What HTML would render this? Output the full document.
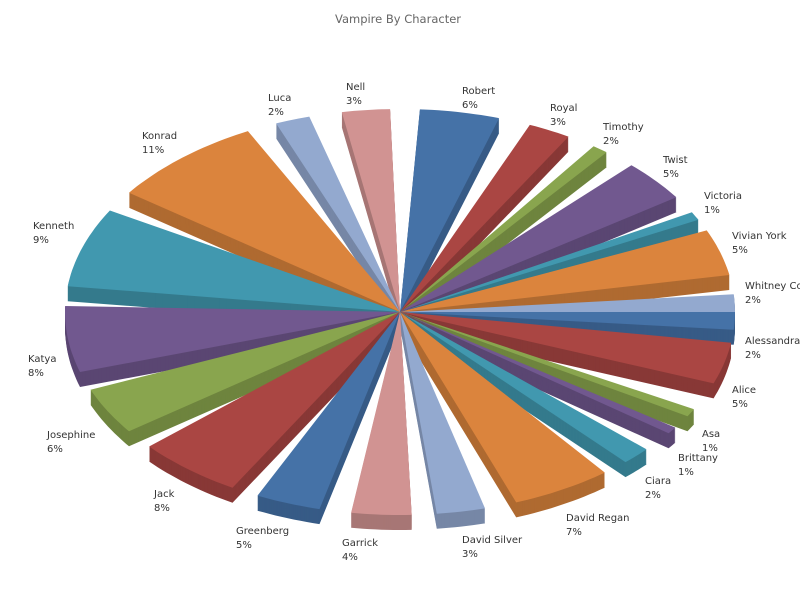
<!DOCTYPE html>
<html><head><meta charset="utf-8"><style>
html,body{margin:0;padding:0;background:#fff;}
svg{display:block;font-family:"DejaVu Sans","Liberation Sans",sans-serif;}
</style></head><body>
<svg id="s" width="800" height="600" xmlns="http://www.w3.org/2000/svg">
<rect width="800" height="600" fill="#fff"/>
<text x="398" y="23" text-anchor="middle" font-size="11.5" fill="#666">Vampire By Character</text>
<g id="pie"></g>
<g font-size="10" fill="#333">
<text x="462" y="94">Robert</text><text x="462" y="108">6%</text>
<text x="550" y="111">Royal</text><text x="550" y="125">3%</text>
<text x="603" y="130">Timothy</text><text x="603" y="144">2%</text>
<text x="663" y="163">Twist</text><text x="663" y="177">5%</text>
<text x="704" y="199">Victoria</text><text x="704" y="213">1%</text>
<text x="732" y="239">Vivian York</text><text x="732" y="253">5%</text>
<text x="745" y="289">Whitney Co</text><text x="745" y="303">2%</text>
<text x="745" y="344">Alessandra</text><text x="745" y="358">2%</text>
<text x="732" y="393">Alice</text><text x="732" y="407">5%</text>
<text x="702" y="437">Asa</text><text x="702" y="451">1%</text>
<text x="678" y="461">Brittany</text><text x="678" y="475">1%</text>
<text x="645" y="484">Ciara</text><text x="645" y="498">2%</text>
<text x="566" y="521">David Regan</text><text x="566" y="535">7%</text>
<text x="462" y="543">David Silver</text><text x="462" y="557">3%</text>
<text x="342" y="546">Garrick</text><text x="342" y="560">4%</text>
<text x="236" y="534">Greenberg</text><text x="236" y="548">5%</text>
<text x="154" y="497">Jack</text><text x="154" y="511">8%</text>
<text x="47" y="438">Josephine</text><text x="47" y="452">6%</text>
<text x="28" y="362">Katya</text><text x="28" y="376">8%</text>
<text x="33" y="229">Kenneth</text><text x="33" y="243">9%</text>
<text x="142" y="139">Konrad</text><text x="142" y="153">11%</text>
<text x="268" y="101">Luca</text><text x="268" y="115">2%</text>
<text x="346" y="90">Nell</text><text x="346" y="104">3%</text>
</g>
</svg>
<script>
var B="#4572A7",R="#AA4643",G="#89A54E",P="#71588F",T="#4198AF",O="#DB843D",L="#93A9CF",K="#D19392";
var d=[[-86.6,-72.8,B],[-67.2,-59.8,R],[-54.7,-51.9,G],[-46.3,-34.4,P],[-29.4,-27,T],[-23.7,-10.5,O],
[-5,0,L],[0,5,B],[8.7,20.6,R],[28.6,30.9,G],[34.7,36.7,P],[42.6,47.7,T],[52.3,69.7,O],[75.3,83.7,L],
[88,98.4,K],[103.9,115.2,B],[120,138.5,R],[144,157.5,G],[162.8,181.7,P],[187.3,210,T],[216,243,O],
[248.3,254.3,L],[260,268.3,K]];
var cx=400,cy=312,rx=335,ry=203,th=15,D=Math.PI/180;
function dark(c){var n=parseInt(c.slice(1),16);var r=(n>>16)&255,g=(n>>8)&255,b=n&255;
return "rgb("+Math.round(r*.8)+","+Math.round(g*.8)+","+Math.round(b*.8)+")";}
var sl=d.map(function(x){return {s:x[0]*D,e:x[1]*D,m:(x[0]+x[1])/2*D,c:x[2]};});
function path(s,e,dy){var p="M"+cx+","+(cy+dy);var n=Math.max(4,Math.ceil((e-s)/0.02));
for(var i=0;i<=n;i++){var t=s+(e-s)*i/n;p+="L"+(cx+rx*Math.cos(t)).toFixed(1)+","+(cy+dy+ry*Math.sin(t)).toFixed(1);}
return p+"Z";}
sl.sort(function(p,q){return Math.sin(p.m)-Math.sin(q.m);});
var g=document.getElementById("pie"),h="";
sl.forEach(function(o){var dc=dark(o.c);
for(var k=th;k>=1;k--)h+='<path d="'+path(o.s,o.e,k)+'" fill="'+dc+'"/>';
h+='<path d="'+path(o.s,o.e,0)+'" fill="'+o.c+'"/>';});
g.innerHTML=h;
</script>
</body></html>
